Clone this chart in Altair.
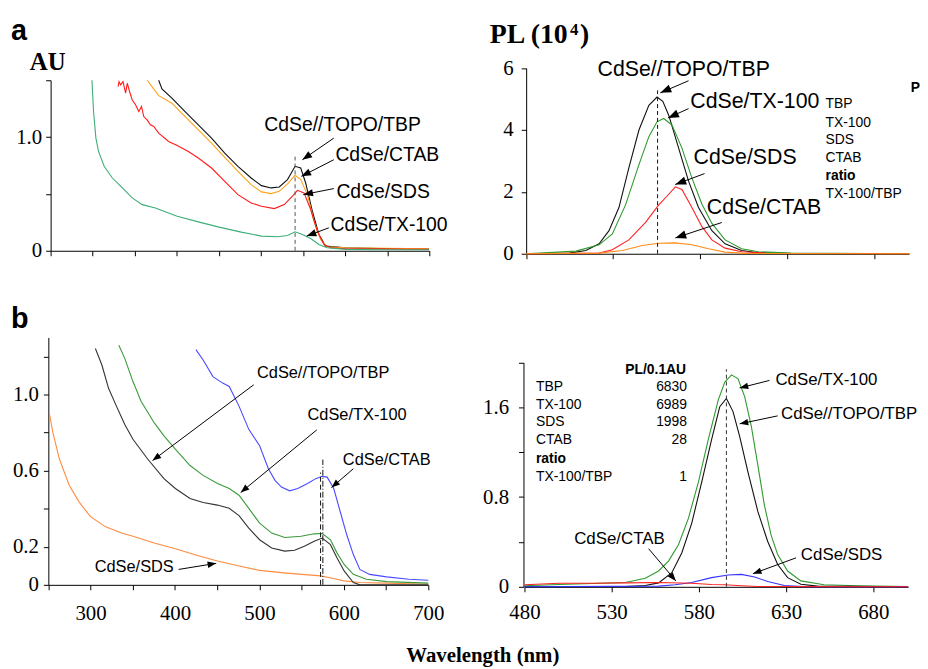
import math
import altair as alt
import pandas as pd

# ---------------- canvas ----------------
W, H = 920, 661

# ---------------- panel a (left): absorbance ----------------
AL_TBP_WL = [378.4, 382.3, 394.1, 409.8, 425.5, 441.2, 456.9, 472.6, 488.3, 500.5, 511.9, 521.7, 531.5, 540.5,
             547.2, 553.1, 561.0, 568.8, 576.7, 600.6, 641.4, 699.5]
AL_TBP_AU = [1.50, 1.424, 1.342, 1.225, 1.108, 0.991, 0.860, 0.743, 0.640, 0.573, 0.553, 0.561, 0.626, 0.743,
             0.728, 0.596, 0.348, 0.143, 0.041, 0.026, 0.020, 0.015]
AL_CTAB_WL = [364.6, 370.5, 378.4, 394.1, 409.8, 425.5, 441.2, 456.9, 472.6, 488.3, 500.5, 511.9, 521.7, 531.5,
              540.5, 547.2, 555.1, 562.9, 570.8, 578.6, 600.6, 699.5]
AL_CTAB_AU = [1.50, 1.444, 1.365, 1.298, 1.181, 1.064, 0.947, 0.822, 0.699, 0.582, 0.518, 0.503, 0.523, 0.588,
              0.664, 0.626, 0.494, 0.260, 0.099, 0.035, 0.026, 0.018]
AL_SDS_WL = [330.1, 331.3, 333.2, 336.0, 339.1, 341.1, 343.8, 347.0, 350.9, 354.8, 358.0, 360.7, 364.6, 368.6,
             372.5, 378.4, 390.2, 400.4, 413.7, 425.5, 441.2, 456.9, 472.6, 488.3, 500.5, 515.8, 527.6, 537.4,
             543.3, 551.1, 559.0, 566.8, 574.7, 582.5, 600.6, 699.5]
AL_SDS_AU = [1.444, 1.488, 1.459, 1.488, 1.386, 1.474, 1.401, 1.327, 1.284, 1.225, 1.269, 1.181, 1.152, 1.108,
             1.094, 1.035, 0.962, 0.927, 0.874, 0.816, 0.728, 0.611, 0.494, 0.421, 0.392, 0.371, 0.406, 0.480,
             0.532, 0.509, 0.363, 0.173, 0.056, 0.026, 0.018, 0.012]
AL_TX_WL = [299.1, 301.0, 303.8, 306.9, 313.6, 323.4, 335.2, 347.0, 358.8, 374.5, 400.4, 425.5, 450.2, 476.5,
            500.5, 519.7, 531.5, 540.5, 549.2, 559.0, 568.8, 578.6, 600.6, 641.4, 699.5]
AL_TX_AU = [1.50, 1.225, 0.991, 0.874, 0.743, 0.640, 0.553, 0.465, 0.406, 0.377, 0.304, 0.254, 0.208, 0.164,
            0.129, 0.123, 0.135, 0.167, 0.143, 0.108, 0.056, 0.026, 0.012, 0.009, 0.009]

# ---------------- panel a (right): PL (10^4) ----------------
AR_TBP_WL = [480, 504.8, 514.3, 521.9, 527.6, 533.3, 539.0, 544.8, 550.5, 555.2, 558.5, 561.9, 567.6, 573.3,
             579.0, 586.7, 594.3, 603.8, 613.3, 632.4, 700]
AR_TBP_PL = [0, 0.02, 0.107, 0.320, 0.746, 1.493, 2.772, 3.998, 4.797, 5.064, 4.925, 4.478, 3.412, 2.345,
             1.493, 0.746, 0.320, 0.107, 0.032, 0.010, 0]
AR_TX_WL = [480, 508.6, 521.9, 529.5, 537.1, 544.8, 550.5, 555.2, 559.0, 563.8, 569.5, 575.2, 581.0, 586.7,
            594.3, 603.8, 613.3, 632.4, 700]
AR_TX_PL = [0, 0.085, 0.288, 0.640, 1.578, 2.878, 3.785, 4.264, 4.371, 4.158, 3.412, 2.452, 1.599, 0.981,
            0.448, 0.160, 0.064, 0.021, 0]
AR_SDS_WL = [480, 521.9, 529.5, 539.0, 548.6, 556.2, 561.0, 565.7, 569.5, 575.2, 581.0, 586.7, 594.3, 603.8,
             617.1, 700]
AR_SDS_PL = [0, 0.021, 0.128, 0.448, 1.013, 1.578, 1.866, 2.164, 2.079, 1.493, 0.874, 0.448, 0.181, 0.064,
             0.021, 0]
AR_CTAB_WL = [480, 521.9, 535.2, 546.7, 556.2, 565.7, 575.2, 584.8, 594.3, 605.7, 700]
AR_CTAB_PL = [0, 0.021, 0.107, 0.267, 0.341, 0.352, 0.288, 0.160, 0.053, 0.011, 0]

# ---------------- panel b (left): absorbance ----------------
BL_SDS_WL = [251.5, 255.4, 263.1, 274.7, 286.3, 299.9, 317.3, 336.6, 350.2, 375.3, 400.4, 425.6, 450.3, 475.8,
             500.2, 526.1, 550.1, 572.5, 588.0, 600.3, 618.9, 650.6, 700]
BL_SDS_AU = [0.895, 0.800, 0.661, 0.523, 0.436, 0.358, 0.306, 0.272, 0.255, 0.220, 0.190, 0.156, 0.125, 0.099,
             0.076, 0.064, 0.055, 0.047, 0.033, 0.021, 0.012, 0.009, 0.003]
BL_TBP_WL = [305.7, 313.4, 321.2, 328.9, 340.5, 350.2, 367.6, 386.9, 400.4, 417.8, 433.3, 450.3, 464.2, 475.8,
             487.4, 500.2, 514.5, 530.0, 541.6, 553.2, 564.8, 574.4, 584.1, 591.8, 600.3, 611.2, 618.9, 700]
BL_TBP_AU = [1.242, 1.155, 1.034, 0.956, 0.843, 0.765, 0.661, 0.558, 0.506, 0.454, 0.433, 0.419, 0.402, 0.364,
             0.298, 0.237, 0.194, 0.177, 0.182, 0.203, 0.229, 0.246, 0.211, 0.142, 0.073, 0.012, 0.0, 0.0]
BL_TX_WL = [333.5, 340.5, 350.2, 359.8, 375.3, 386.9, 400.4, 417.8, 433.3, 450.3, 464.2, 475.8, 487.4, 500.2,
            514.5, 530.0, 549.3, 564.8, 574.4, 584.1, 591.8, 600.3, 611.2, 626.6, 650.6, 700]
BL_TX_AU = [1.259, 1.190, 1.068, 0.965, 0.852, 0.783, 0.713, 0.627, 0.575, 0.532, 0.506, 0.471, 0.402, 0.324,
            0.272, 0.249, 0.255, 0.268, 0.270, 0.237, 0.168, 0.107, 0.055, 0.029, 0.017, 0.009]
BL_CTAB_WL = [424.8, 433.3, 444.9, 456.5, 464.2, 475.8, 487.4, 500.2, 510.6, 518.4, 526.1, 535.8, 545.4, 557.0,
              566.7, 574.4, 580.2, 588.0, 595.7, 603.4, 611.2, 618.9, 630.5, 650.6, 676.9, 700]
BL_CTAB_AU = [1.236, 1.181, 1.094, 1.060, 1.042, 0.939, 0.817, 0.731, 0.610, 0.549, 0.514, 0.494, 0.506, 0.532,
              0.558, 0.570, 0.566, 0.506, 0.384, 0.263, 0.159, 0.081, 0.055, 0.042, 0.029, 0.024]

# ---------------- panel b (right): PL ----------------
BR_TX_WL = [480, 499.9, 518.9, 537.9, 549.3, 556.9, 562.6, 568.3, 574.0, 579.7, 585.4, 591.1, 594.9, 598.7,
            602.5, 606.3, 610.1, 613.9, 617.6, 621.4, 625.2, 630.9, 638.5, 651.8, 670.8, 700]
BR_TX_PL = [0.009, 0.021, 0.029, 0.038, 0.076, 0.141, 0.229, 0.375, 0.610, 0.932, 1.313, 1.665, 1.826, 1.890,
            1.855, 1.694, 1.430, 1.078, 0.727, 0.463, 0.287, 0.141, 0.053, 0.018, 0.009, 0.003]
BR_TBP_WL = [480, 537.9, 549.3, 556.9, 564.5, 570.2, 575.9, 581.6, 587.3, 592.0, 595.8, 599.6, 603.4, 608.2,
             613.9, 619.5, 625.2, 630.9, 638.5, 648.0, 700]
BR_TBP_PL = [0, 0.003, 0.012, 0.035, 0.126, 0.302, 0.566, 0.932, 1.313, 1.606, 1.679, 1.562, 1.342, 1.020,
             0.668, 0.404, 0.199, 0.082, 0.023, 0.006, 0]
BR_SDS_WL = [480, 556.9, 566.4, 575.9, 587.3, 596.8, 604.4, 612.0, 619.5, 629.0, 642.3, 700]
BR_SDS_PL = [0, 0.006, 0.018, 0.038, 0.082, 0.105, 0.111, 0.088, 0.047, 0.012, 0, 0]
BR_CTAB_WL = [480, 499.9, 518.9, 537.9, 556.9, 575.9, 587.3, 594.9, 604.4, 613.9, 700]
BR_CTAB_PL = [0.018, 0.032, 0.032, 0.035, 0.038, 0.032, 0.021, 0.018, 0.009, 0.003, 0]

# ---------------- annotations (data coordinates) ----------------
AL_LABELS = [("CdSe//TOPO/TBP", 504.0, 1.102), ("CdSe/CTAB", 588.4, 0.839),
             ("CdSe/SDS", 589.6, 0.518), ("CdSe/TX-100", 582.6, 0.225)]
AL_ARROWS = [(586.5, 0.991, 549.2, 0.801), (586.5, 0.801, 548.0, 0.655),
             (586.5, 0.547, 550.3, 0.494), (580.6, 0.202, 554.3, 0.129)]
AL_MARK = [(540.5, 0.83)]

AR_LABELS = [("CdSe//TOPO/TBP", 521.0, 5.94), ("CdSe/TX-100", 574.3, 4.90),
             ("CdSe/SDS", 576.2, 3.09), ("CdSe/CTAB", 583.8, 1.49)]
AR_ARROWS = [(573.3, 5.59, 557.1, 5.20), (573.3, 4.69, 561.5, 4.39),
             (582.5, 2.59, 565.7, 2.24), (592.4, 1.01, 565.7, 0.51)]
AR_SIDE = [("TBP", 652.0, 4.85), ("TX-100", 652.0, 4.21), ("SDS", 652.0, 3.68),
           ("CTAB", 652.0, 3.09), ("TX-100/TBP", 652.0, 1.94)]
AR_SIDE_BOLD = [("ratio", 652.0, 2.51), ("PL/0.1AU", 700.9, 5.35)]
AR_MARK = [(555.5, 5.28)]

BL_LABELS = [("CdSe//TOPO/TBP", 497.1, 1.115), ("CdSe/TX-100", 557.0, 0.890),
             ("CdSe/CTAB", 598.8, 0.658), ("CdSe/SDS", 304.9, 0.0935)]
BL_ARROWS = [(493.2, 1.051, 373.4, 0.653), (567.9, 0.814, 477.8, 0.485),
             (611.2, 0.610, 585.3, 0.511), (404.3, 0.081, 448.8, 0.113)]
BL_MARK = [(572.4, 0.59)]
BL_MARK2 = [(575.1, 0.658)]

BR_LABELS = [("CdSe/TX-100", 623.9, 1.846), ("CdSe//TOPO/TBP", 627.1, 1.541),
             ("CdSe/CTAB", 508.5, 0.428), ("CdSe/SDS", 638.5, 0.281)]
BR_ARROWS = [(620.5, 1.840, 603.4, 1.773), (625.2, 1.524, 603.4, 1.453),
             (551.2, 0.340, 566.8, 0.053), (635.7, 0.258, 611.0, 0.117)]
BR_TABLE = [("TBP", 486.6, 1.782), ("TX-100", 486.6, 1.620), ("SDS", 486.6, 1.465),
            ("CTAB", 486.6, 1.307), ("TX-100/TBP", 486.6, 0.982)]
BR_TABLE_BOLD = [("ratio", 486.6, 1.137)]
BR_TABLE_VALUES = [("6830", 573.2, 1.782), ("6989", 573.2, 1.620), ("1998", 573.2, 1.465),
                   ("28", 573.2, 1.307), ("1", 573.2, 0.982)]
BR_TABLE_HEAD = [("PL/0.1AU", 572.7, 1.934)]
BR_MARK = [(595.8, 1.94)]

ARROW_SHAPE = "M0,0L-0.38,1L0.38,1Z"
SANS = "Liberation Sans"
SERIF = "Liberation Serif"


def series_df(series):
    rows = []
    for name, xs, ys in series:
        for x, y in zip(xs, ys):
            rows.append({"x": x, "y": y, "s": name})
    return pd.DataFrame(rows)


def text_df(items):
    return pd.DataFrame([{"t": t, "x": x, "y": y} for t, x, y in items])


def build_panel(p):
    sx = (p["xr"][1] - p["xr"][0]) / (p["xdom"][1] - p["xdom"][0])
    sy = (p["yr"][0] - p["yr"][1]) / (p["ydom"][1] - p["ydom"][0])
    xs = alt.Scale(domain=p["xdom"], range=p["xr"], nice=False, zero=False)
    ys = alt.Scale(domain=p["ydom"], range=p["yr"], nice=False, zero=False)
    X = alt.X("x:Q", scale=xs, axis=p["xaxis"])
    Y = alt.Y("y:Q", scale=ys, axis=p["yaxis"])

    names = [s[0] for s in p["series"]]
    lines = alt.Chart(series_df(p["series"])).mark_line(strokeWidth=1.1, clip=False).encode(
        x=X, y=Y,
        color=alt.Color("s:N", scale=alt.Scale(domain=names, range=p["colors"]), legend=None),
    )
    layers = [lines]

    for mk, dash, col in p["marks"]:
        mdf = pd.DataFrame([{"x": x, "y": 0.0, "y2": top} for x, top in mk])
        layers.append(alt.Chart(mdf).mark_rule(strokeDash=dash, strokeWidth=1, color=col).encode(
            x=X, y=Y, y2=alt.Y2("y2:Q")))

    arows = []
    for x1, y1, x2, y2 in p["arrows"]:
        dx = (x2 - x1) * sx
        dy = -(y2 - y1) * sy
        ang = math.degrees(math.atan2(dx, -dy)) % 360
        arows.append({"x": x1, "y": y1, "x2": x2, "y2": y2, "ang": ang})
    adf = pd.DataFrame(arows)
    layers.append(alt.Chart(adf).mark_rule(strokeWidth=1, color="black").encode(
        x=X, y=Y, x2=alt.X2("x2:Q"), y2=alt.Y2("y2:Q")))
    layers.append(alt.Chart(adf).mark_point(shape=ARROW_SHAPE, filled=True, size=p["head"], color="black",
                                            opacity=1, strokeWidth=0).encode(
        x=alt.X("x2:Q", scale=xs, axis=p["xaxis"]), y=alt.Y("y2:Q", scale=ys, axis=p["yaxis"]),
        angle=alt.Angle("ang:Q", scale=None)))

    for items, align, weight, size in p["texts"]:
        layers.append(alt.Chart(text_df(items)).mark_text(
            align=align, baseline="middle", font=SANS, fontSize=size, fontWeight=weight, color="black"
        ).encode(x=X, y=Y, text="t:N"))
    return alt.layer(*layers)


def axis_x(off, values, labels=True, expr=None, pad=10):
    kw = dict(orient="bottom", offset=off, values=values, title=None, grid=False, tickSize=5,
              labelPadding=pad, labelFont=SERIF, labelFontSize=21, labelColor="black",
              domainColor="black", tickColor="black", labelFlush=False, labelOverlap=False)
    if not labels:
        kw["labels"] = False
    if expr:
        kw["labelExpr"] = expr
    return alt.Axis(**kw)


def axis_y(off, values, expr=None, pad=5):
    kw = dict(orient="left", offset=off, values=values, title=None, grid=False, tickSize=5,
              labelPadding=pad, labelFont=SERIF, labelFontSize=21, labelColor="black",
              domainColor="black", tickColor="black", labelFlush=False, labelOverlap=False)
    if expr:
        kw["labelExpr"] = expr
    return alt.Axis(**kw)


WL_B = [250, 300, 350, 400, 450, 500, 550, 600, 650, 700]
WL_PL = [480, 530, 580, 630, 680]

panels = [
    dict(xdom=[250, 700], ydom=[0, 1.5], xr=[43, 425], yr=[242, 70],
         xaxis=axis_x(242 - H, WL_B, labels=False),
         yaxis=axis_y(-43, [0, 0.5, 1.0, 1.5],
                      expr="datum.value == 0 ? '0' : (datum.value == 1 ? '1.0' : '')", pad=4),
         series=[("TBP", AL_TBP_WL, AL_TBP_AU), ("CTAB", AL_CTAB_WL, AL_CTAB_AU),
                 ("SDS", AL_SDS_WL, AL_SDS_AU), ("TX", AL_TX_WL, AL_TX_AU)],
         colors=["#111111", "#FFA31A", "#FF1A1A", "#3DAE78"],
         marks=[(AL_MARK, [4, 3], "#555555")],
         arrows=AL_ARROWS, head=380,
         texts=[(AL_LABELS, "left", "normal", 19.5)]),
    dict(xdom=[480, 700], ydom=[0, 6], xr=[522.7, 909], yr=[245, 57.7],
         xaxis=axis_x(245 - H, WL_PL, labels=False),
         yaxis=axis_y(-522.7, [0, 2, 4, 6], pad=8),
         series=[("TBP", AR_TBP_WL, AR_TBP_PL), ("TX", AR_TX_WL, AR_TX_PL),
                 ("SDS", AR_SDS_WL, AR_SDS_PL), ("CTAB", AR_CTAB_WL, AR_CTAB_PL)],
         colors=["#111111", "#2E9A2E", "#FF2020", "#FF8C1A"],
         marks=[(AR_MARK, [4, 3], "#111111")],
         arrows=AR_ARROWS, head=480,
         texts=[(AR_LABELS, "left", "normal", 21.5), (AR_SIDE, "left", "normal", 14),
                (AR_SIDE_BOLD, "left", "bold", 14)]),
    dict(xdom=[250, 700], ydom=[0, 1.3], xr=[40.7, 424], yr=[579, 329.4],
         xaxis=axis_x(579 - H, WL_B, expr="datum.value % 100 == 0 ? datum.value : ''", pad=13),
         yaxis=axis_y(-40.7, [0, 0.2, 0.4, 0.6, 0.8, 1.0, 1.2],
                      expr="datum.value == 0 ? '0' : (indexof(['0.2','0.6','1.0'], format(datum.value, '.1f')) >= 0 ? format(datum.value, '.1f') : '')",
                      pad=5),
         series=[("SDS", BL_SDS_WL, BL_SDS_AU), ("TBP", BL_TBP_WL, BL_TBP_AU),
                 ("TX", BL_TX_WL, BL_TX_AU), ("CTAB", BL_CTAB_WL, BL_CTAB_AU)],
         colors=["#FF8C40", "#333333", "#3A9A3A", "#4A4AFF"],
         marks=[(BL_MARK, [5, 3], "#111111"), (BL_MARK2, [6, 2, 1, 2], "#111111")],
         arrows=BL_ARROWS, head=300,
         texts=[(BL_LABELS, "left", "normal", 16.5)]),
    dict(xdom=[480, 700], ydom=[0, 2.0], xr=[521, 908], yr=[581, 354.7],
         xaxis=axis_x(581 - H, WL_PL, pad=10),
         yaxis=axis_y(-520, [0, 0.4, 0.8, 1.2, 1.6, 2.0],
                      expr="datum.value == 0 ? '0' : (indexof(['0.8','1.6'], format(datum.value, '.1f')) >= 0 ? format(datum.value, '.1f') : '')",
                      pad=10),
         series=[("TX", BR_TX_WL, BR_TX_PL), ("TBP", BR_TBP_WL, BR_TBP_PL),
                 ("SDS", BR_SDS_WL, BR_SDS_PL), ("CTAB", BR_CTAB_WL, BR_CTAB_PL)],
         colors=["#2E9A2E", "#111111", "#3333FF", "#FF2020"],
         marks=[(BR_MARK, [4, 3], "#333333")],
         arrows=BR_ARROWS, head=300,
         texts=[(BR_LABELS, "left", "normal", 17), (BR_TABLE, "left", "normal", 14),
                (BR_TABLE_BOLD, "left", "bold", 14), (BR_TABLE_VALUES, "right", "normal", 14),
                (BR_TABLE_HEAD, "right", "bold", 14)]),
]

panel_charts = [build_panel(p) for p in panels]

# ---------------- headings ----------------
one = pd.DataFrame([{"k": 0}])


def heading(text, x, y, font, size, weight="bold", align="left"):
    return alt.Chart(one).mark_text(text=text, font=font, fontSize=size, fontWeight=weight, align=align,
                                    baseline="alphabetic", color="black").encode(
        x=alt.value(x), y=alt.value(y))


headings = alt.layer(
    heading("a", 3, 29, SANS, 29),
    heading("AU", 22, 60, SERIF, 25),
    heading("PL (10", 486, 32, SERIF, 28),
    heading("4", 567, 24, SERIF, 17),
    heading(")", 577, 32, SERIF, 28),
    heading("b", 3, 320, SANS, 29),
    heading("Wavelength (nm)", 479, 657, SERIF, 21, align="center"),
)

chart = alt.layer(*panel_charts, headings).resolve_scale(
    x="independent", y="independent", color="independent"
).properties(
    width=W, height=H, padding=0, autosize=alt.AutoSizeParams(type="none"), background="white"
).configure_view(stroke=None)

chart.save("out.html", embed_options={"renderer": "svg", "actions": False})
